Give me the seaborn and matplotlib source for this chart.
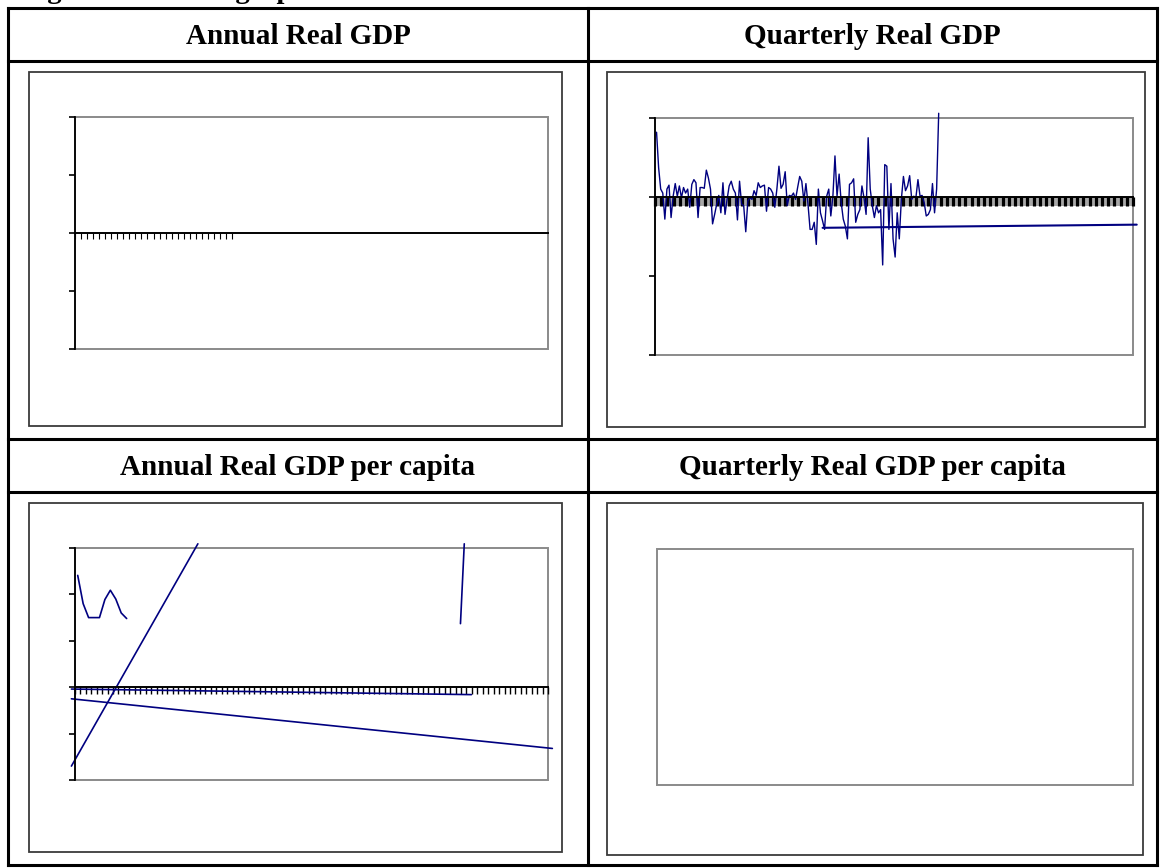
import numpy as np
import pandas as pd
import matplotlib
matplotlib.use("Agg")
import matplotlib.pyplot as plt
import seaborn as sns
from matplotlib.patches import Rectangle
from matplotlib.lines import Line2D

# ---------------- data ----------------
figure_caption = "Figure 3.6: Some graphs of the first-differenced time series"
panel_titles = ["Annual Real GDP", "Quarterly Real GDP",
                "Annual Real GDP per capita", "Quarterly Real GDP per capita"]

# Quarterly Real GDP (first differences)
quarterly_gdp = [0.82, 0.37, 0.10, 0.05, -0.28, 0.10, 0.15, -0.26, 0.01, 0.17,
                 0.01, 0.14, -0.01, 0.12, 0.05, 0.10, -0.13, 0.16, 0.22, 0.18,
                 -0.26, 0.12, 0.12, 0.11, 0.34, 0.24, 0.10, -0.34, -0.22, -0.09,
                 0.02, -0.20, 0.18, -0.22, -0.03, 0.14, 0.20, 0.10, 0.05, -0.29,
                 0.20, -0.09, -0.11, -0.44, -0.05, -0.01, -0.03, 0.08, 0.02, 0.18,
                 0.12, 0.14, 0.15, -0.18, 0.12, 0.10, 0.05, -0.13, 0.10, 0.39,
                 0.11, 0.16, 0.32, -0.11, 0.02, 0.01, 0.05, -0.03, 0.12, 0.26,
                 0.20, -0.05, 0.17, -0.09, -0.41, -0.41, -0.32, -0.60, 0.10, -0.20,
                 -0.30, -0.41, 0.01, 0.10, -0.24, 0.01, 0.52, 0.01, 0.29, -0.07,
                 -0.28, -0.37, -0.53, 0.16, 0.18, 0.23, -0.32, -0.22, -0.16, 0.14,
                 -0.01, -0.22, 0.75, 0.10, -0.11, -0.26, -0.11, -0.20, -0.16, -0.86,
                 0.41, 0.39, -0.41, 0.17, -0.53, -0.76, -0.20, -0.53, -0.03, 0.26,
                 0.08, 0.14, 0.27, -0.03, 0.01, -0.01, 0.22, 0.01, 0.02, -0.07,
                 -0.24, -0.22, -0.16, 0.17, -0.20, 0.10, 1.06]
quarterly_flat_x = [27.0, 77.6]
quarterly_flat_y = [-0.39, -0.35]

# Annual Real GDP per capita (broken series segments)
pc_wiggle_x = [0.5, 1.5, 2.5, 3.5, 4.5, 5.5, 6.5, 7.5, 8.5, 9.5]
pc_wiggle_y = [2.41, 1.80, 1.50, 1.50, 1.50, 1.89, 2.09, 1.90, 1.60, 1.48]
pc_steep_x = [-0.66, 22.6]
pc_steep_y = [-1.70, 3.09]
pc_vert_x = [70.9, 71.6]
pc_vert_y = [1.37, 3.09]
pc_desc_x = [-0.66, 87.8]
pc_desc_y = [-0.25, -1.32]
pc_flat_x = [-0.66, 72.9]
pc_flat_y = [-0.04, -0.16]

# ---------------- figure ----------------
sns.set_style("white")
plt.rcParams["font.family"] = ["Liberation Serif", "DejaVu Serif"]
plt.rcParams["text.color"] = "black"

W, H = 1164, 868
fig = plt.figure(figsize=(W / 100, H / 100), dpi=100)
fig.patch.set_facecolor("white")


def fx(px):
    return px / W


def fy(py):
    return 1 - py / H


def fline(xs, ys, lw, color):
    fig.add_artist(Line2D([fx(x) for x in xs], [fy(y) for y in ys],
                          transform=fig.transFigure, lw=lw, color=color,
                          solid_capstyle="projecting"))


def fbox(x0, y0, x1, y1, lw, color):
    fig.add_artist(Rectangle((fx(x0), fy(y1)), fx(x1) - fx(x0), (y1 - y0) / H,
                             transform=fig.transFigure, fill=False,
                             ec=color, lw=lw))


# caption, mostly cut off by the top edge (as in the reference)
fig.text(fx(22), fy(-1.5), figure_caption, fontsize=20.5, fontweight="bold",
         ha="left", va="baseline", color="black")

# table grid
TL, TR, TT, TB, TM = 8, 1157, 7.5, 865, 588
lw_tab = 2.2
fline([TL, TR], [TT, TT], lw_tab, "black")
fline([TL, TR], [TB, TB], lw_tab, "black")
fline([TL, TL], [TT, TB], lw_tab, "black")
fline([TR, TR], [TT, TB], lw_tab, "black")
fline([TM, TM], [TT, TB], lw_tab, "black")
for yy in [61, 439, 492]:
    fline([TL, TR], [yy, yy], lw_tab, "black")

title_kw = dict(fontsize=21, fontweight="bold", ha="center", va="center",
                color="black")
fig.text(fx((TL + TM) / 2), fy(36), panel_titles[0], **title_kw)
fig.text(fx((TM + TR) / 2), fy(36), panel_titles[1], **title_kw)
fig.text(fx((TL + TM) / 2), fy(467.5), panel_titles[2], **title_kw)
fig.text(fx((TM + TR) / 2), fy(467.5), panel_titles[3], **title_kw)

# chart-object boxes
box_c = "#3a3a3a"
fbox(29, 72, 562, 426, 1.3, box_c)
fbox(607, 72, 1145, 427, 1.3, box_c)
fbox(29, 503, 562, 852, 1.3, box_c)
fbox(607, 503, 1143, 855, 1.3, box_c)

navy = "#000080"
frame_gray = "#8a8a8a"


def plot_axes(x0, y0, x1, y1):
    return fig.add_axes([fx(x0), fy(y1), fx(x1) - fx(x0), (y1 - y0) / H])


def style(ax, xlim, ylim, xticks, yticks, tlen, twidth, axis=True):
    ax.set_xlim(xlim)
    ax.set_ylim(ylim)
    ax.set_facecolor("none")
    for s in ["top", "right", "bottom", "left"]:
        ax.spines[s].set_visible(False)
    ax.add_patch(Rectangle((0, 0), 1, 1, transform=ax.transAxes, fill=False,
                           ec=frame_gray, lw=1.4, clip_on=False, zorder=0.5))
    ax.set_xlabel("")
    ax.set_ylabel("")
    if not axis:
        ax.set_xticks([])
        ax.set_yticks([])
        return
    ax.spines["left"].set_visible(True)
    ax.spines["left"].set_color("black")
    ax.spines["left"].set_linewidth(1.3)
    ax.spines["bottom"].set_visible(True)
    ax.spines["bottom"].set_position(("data", 0))
    ax.spines["bottom"].set_color("black")
    ax.spines["bottom"].set_linewidth(1.4)
    ax.set_xticks(xticks)
    ax.set_yticks(yticks)
    ax.set_xticklabels([])
    ax.set_yticklabels([])
    ax.tick_params(axis="y", left=True, direction="out", length=4,
                   width=1.2, color="black")
    ax.tick_params(axis="x", bottom=True, direction="out", length=tlen,
                   width=twidth, color="black")


# --- Annual Real GDP (empty) ---
ax1 = plot_axes(75, 117, 548, 349)
style(ax1, (0, 78.3), (-2, 2), np.arange(0, 27), np.arange(-2, 3), 4.3, 0.8)

# --- Quarterly Real GDP ---
ax2 = plot_axes(655, 118, 1133, 355)
xq = np.linspace(0.25, 45.7, len(quarterly_gdp))
dq = pd.DataFrame({"t": xq, "d": quarterly_gdp})
# grey band behind the dense tick marks under the zero line
ax2.add_patch(Rectangle((0, 2 / 3 - 0.038), 1, 0.038, transform=ax2.transAxes,
                        fc="#a8a8a8", ec="none", zorder=0.4))
sns.lineplot(data=dq, x="t", y="d", ax=ax2, color=navy, lw=1.0,
             clip_on=False, estimator=None, sort=False)
sns.lineplot(x=quarterly_flat_x, y=quarterly_flat_y, ax=ax2, color=navy,
             lw=1.5, clip_on=False, estimator=None)
style(ax2, (0, 77), (-2, 1), np.arange(0, 78), np.arange(-2, 2), 6.5, 2.3)

# --- Annual Real GDP per capita ---
ax3 = plot_axes(75, 548, 548, 780)
for xs, ys in [(pc_wiggle_x, pc_wiggle_y), (pc_steep_x, pc_steep_y),
               (pc_vert_x, pc_vert_y), (pc_desc_x, pc_desc_y),
               (pc_flat_x, pc_flat_y)]:
    sns.lineplot(x=xs, y=ys, ax=ax3, color=navy, lw=1.2, clip_on=False,
                 estimator=None, sort=False)
style(ax3, (0, 87), (-2, 3), np.arange(0, 88), np.arange(-2, 4), 5, 1.0)

# --- Quarterly Real GDP per capita (empty, no axes) ---
ax4 = plot_axes(657, 549, 1133, 785)
style(ax4, (0, 1), (0, 1), [], [], 0, 0, axis=False)

fig.savefig("out.png", dpi=100, facecolor="white")
